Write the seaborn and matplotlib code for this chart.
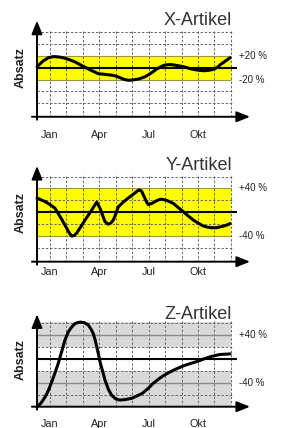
import matplotlib
matplotlib.use("Agg")
import matplotlib.pyplot as plt
import seaborn as sns
import pandas as pd

# ---------------- data ----------------
month_ticks = [1, 4, 7, 10]
month_labels = ["Jan", "Apr", "Jul", "Okt"]
titles = ["X-Artikel", "Y-Artikel", "Z-Artikel"]

x_pos = [0.21, 0.6, 0.9, 1.2, 1.5, 1.8, 2.15, 2.52, 2.85, 3.2, 3.55, 3.94, 4.3, 4.75,
         5.0, 5.2, 5.4, 5.56, 5.75, 5.9, 6.17, 6.4, 6.6, 6.8, 6.98, 7.25, 7.49, 7.7,
         7.9, 8.1, 8.3, 8.5, 8.7, 9.1, 9.6, 10.0, 10.4, 10.73, 11.0, 11.2, 11.34,
         11.5, 11.65, 11.8, 11.95]
x_val = [2, 12, 17, 19, 18.5, 17, 14, 10, 5, 0, -5, -10, -11, -12.5,
         -14, -16, -18.5, -20, -21, -21, -20, -19, -17, -15, -12, -7, -2, 1,
         4, 5, 5.5, 5, 4, 2, -2, -4, -5, -4, -2, 1, 5,
         8, 11, 14, 17]

y_pos = [0.21, 0.45, 0.70, 1.0, 1.30, 1.61, 1.82, 2.02, 2.18, 2.32, 2.47, 2.62, 2.88,
         3.13, 3.35, 3.54, 3.7, 3.84, 3.94, 4.04, 4.2, 4.35, 4.55, 4.7, 4.85, 5.0,
         5.15, 5.45, 5.76, 6.05, 6.37, 6.5, 6.58, 6.68, 6.78, 6.88, 6.98, 7.2, 7.39,
         7.6, 7.79, 8.1, 8.50, 8.8, 9.11, 9.4, 9.72, 10.0, 10.32, 10.6, 10.84, 11.1,
         11.44, 11.7, 11.95]
y_val = [24, 21, 18, 13, 7, -7, -17, -27, -35, -40, -39, -35, -24,
         -13, -4, 4, 11, 17, 12, 7, -5, -16, -20, -18, -13, -3,
         9, 17, 24, 30, 37, 37, 35, 29, 23, 17, 13, 15, 18,
         21, 22, 20, 15, 8, 1, -6, -13, -18, -23, -25, -26, -26,
         -24, -22, -19]

z_pos = [0.21, 0.45, 0.70, 0.9, 1.10, 1.30, 1.50, 1.7, 1.91, 2.1, 2.32, 2.55, 2.82,
         3.1, 3.33, 3.5, 3.63, 3.75, 3.84, 3.95, 4.04, 4.2, 4.35, 4.55, 4.75, 5.0,
         5.26, 5.6, 5.97, 6.3, 6.60, 6.95, 7.28, 7.7, 8.10, 8.6, 9.11, 9.55, 10.02,
         10.4, 10.84, 11.34, 11.95]
z_val = [-79, -73, -63, -52, -38, -23, -7, 12, 32, 45, 54, 60, 62,
         61, 57, 50, 43, 32, 21, 8, -4, -20, -35, -50, -60, -66,
         -68, -67, -65, -61, -57, -49, -40, -31, -24, -17, -11, -7, -3,
         1, 5, 8, 9]

series = [(x_pos, x_val), (y_pos, y_val), (z_pos, z_val)]
band_limits = [20, 40, 40]          # labelled tolerance lines
grid_levels = [-60, -40, -20, 20, 40, 60]

# ---------------- layout ----------------
W, H = 282, 428
fig = plt.figure(figsize=(W / 100, H / 100), dpi=100)
sns.set_style("white")
plt.rcParams["font.family"] = ["Liberation Sans", "DejaVu Sans"]

XMIN, XMAX = -1.4, 13.5
YMIN, YMAX = -92, 90
PX_JAN, PX_MONTH = 50, 16.44
panels = [
    dict(zero=67.8, scale=0.59, axis_y=-83, tip=80, pad=7.0),
    dict(zero=212.3, scale=0.595, axis_y=-83, tip=78, pad=1.5),
    dict(zero=359.3, scale=0.60, axis_y=-79, tip=75, pad=6.0),
]
X0 = 0.21
XEND = 12.0

grid_kw = dict(colors="#686868", linewidth=0.7, linestyles=(0, (2.5, 1.8)), zorder=1)

for i, p in enumerate(panels):
    top = p["zero"] - YMAX * p["scale"]
    bot = p["zero"] - YMIN * p["scale"]
    lpx = PX_JAN + (XMIN - 1) * PX_MONTH
    rpx = PX_JAN + (XMAX - 1) * PX_MONTH
    ax = fig.add_axes([lpx / W, 1 - bot / H, (rpx - lpx) / W, (bot - top) / H])
    ax.set_xlim(XMIN, XMAX)
    ax.set_ylim(YMIN, YMAX)
    ax.patch.set_alpha(0)
    for s in ["left", "right", "top"]:
        ax.spines[s].set_visible(False)
    ax.spines["bottom"].set_position(("data", p["axis_y"]))
    ax.spines["bottom"].set_visible(False)
    ax.set_yticks([])
    ax.set_xticks(month_ticks)
    ax.set_xticklabels(month_labels, fontsize=7.8, color="#222222")
    ax.tick_params(axis="x", direction="inout", length=5, width=1.0,
                   color="black", pad=p["pad"])

    ay = p["axis_y"]
    lim = band_limits[i]
    if i < 2:
        ax.fill_between([X0, XEND], -lim, lim, color="#ffff00", lw=0, zorder=0)
        ax.hlines([-lim, lim], X0, XEND, colors="#9a9a38", linewidth=0.8, zorder=1.5)
    else:
        ax.fill_between([X0, XEND], 20, 62, color="#d9d9d9", lw=0, zorder=0)
        ax.fill_between([X0, XEND], ay, -20, color="#d9d9d9", lw=0, zorder=0)
        ax.hlines([-lim, lim], X0, XEND, colors="#8a8a8a", linewidth=1.0, zorder=1.5)
    ax.vlines(range(1, 13), ay, 64, **grid_kw)
    ax.hlines([g for g in grid_levels if abs(g) != lim], X0, XEND + 0.1, **grid_kw)
    ax.hlines(0, X0, 12.4, colors="black", linewidth=1.5, zorder=2)

    xs, ys = series[i]
    df = pd.DataFrame({"m": xs, "v": ys})
    sns.lineplot(data=df, x="m", y="v", ax=ax, color="black", linewidth=2.2,
                 sort=False, estimator=None, zorder=3)
    for ln in ax.lines:
        ln.set_solid_joinstyle("round")
        ln.set_solid_capstyle("round")
    ax.set_xlabel("")
    ax.set_ylabel("")

    arr = dict(arrowstyle="-|>,head_length=0.8,head_width=0.32", lw=1.4,
               color="black", shrinkA=0, shrinkB=0, mutation_scale=10)
    ax.annotate("", xy=(13.17, ay), xytext=(-0.1, ay), arrowprops=arr,
                annotation_clip=False, zorder=4)
    ax.annotate("", xy=(X0, p["tip"]), xytext=(X0, ay - 5), arrowprops=arr,
                annotation_clip=False, zorder=4)

    ax.text(12.07, p["tip"], titles[i], ha="right", va="center", fontsize=13,
            color="#333333")
    ax.text(12.5, lim, f"+{lim} %", ha="left", va="center", fontsize=7, color="#222222")
    ax.text(12.5, -lim, f"-{lim} %", ha="left", va="center", fontsize=7, color="#222222")
    ax.text(-0.76, 0, "Absatz", rotation=90, ha="center", va="center",
            fontsize=9, fontweight="bold", color="#222222")

fig.savefig("out.png", dpi=100)
